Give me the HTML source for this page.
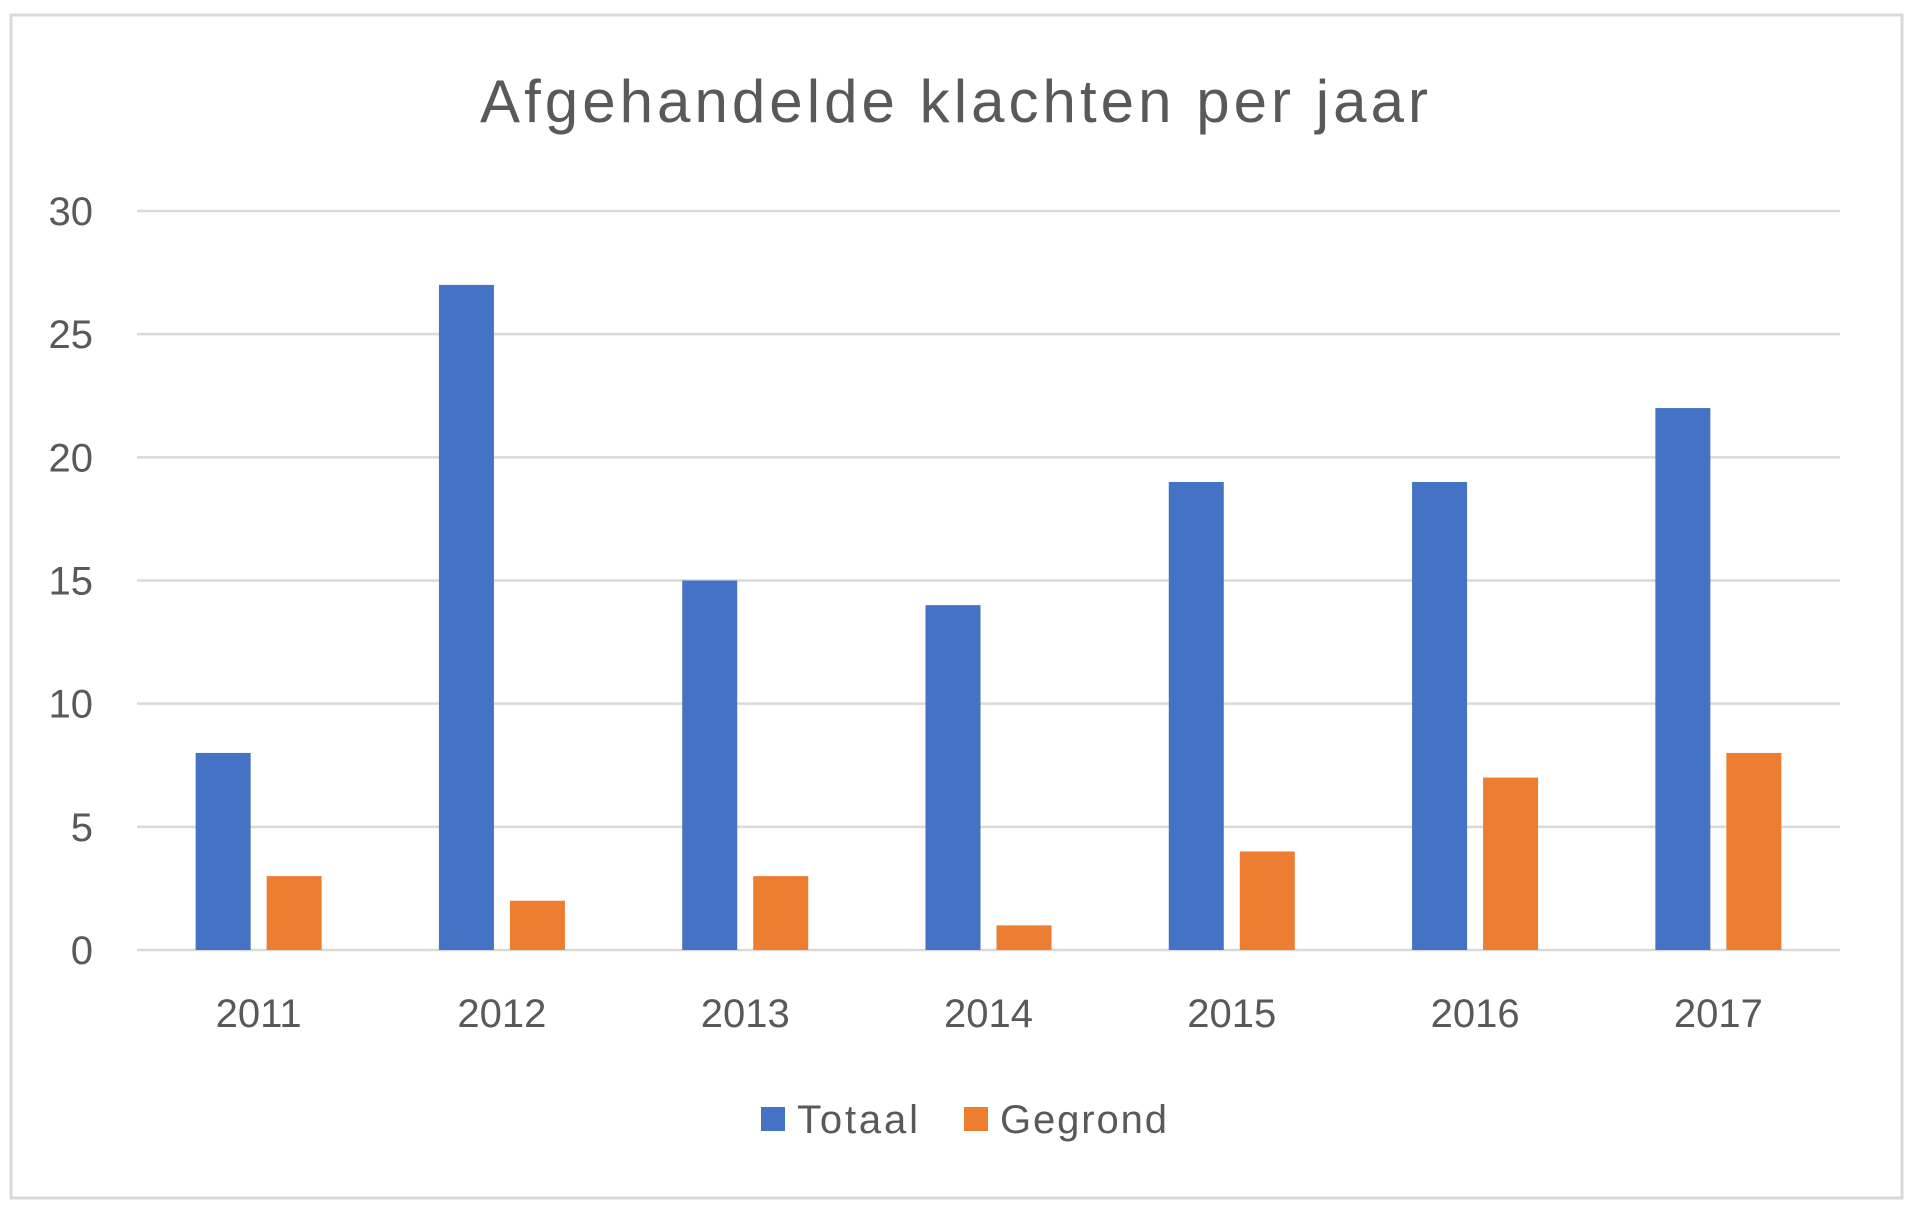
<!DOCTYPE html>
<html><head><meta charset="utf-8"><style>
html,body{margin:0;padding:0;background:#fff}
svg{display:block}
text{font-family:"Liberation Sans",sans-serif;fill:#595959}
</style></head><body>
<svg id="chart" width="1920" height="1214">
<rect x="11" y="15" width="1891" height="1183" fill="#fff" stroke="#d9d9d9" stroke-width="3"/>
<text x="954" y="122" text-anchor="middle" font-size="60" textLength="948">Afgehandelde klachten per jaar</text>
<g id="grid"></g><g id="bars"></g><g id="labels"></g>
<g>
<rect x="761" y="1107" width="24" height="24" fill="#4472c4"/>
<text x="797" y="1133" font-size="40" textLength="121">Totaal</text>
<rect x="964" y="1107" width="24" height="24" fill="#ed7d31"/>
<text x="1000" y="1133" font-size="40" textLength="167">Gegrond</text>
</g>
</svg>
<script>
const categories=["2011","2012","2013","2014","2015","2016","2017"];
const totaal=[8,27,15,14,19,19,22];
const gegrond=[3,2,3,1,4,7,8];
const yTicks=[0,5,10,15,20,25,30];
const NS="http://www.w3.org/2000/svg";
const L=137,R=1840,T=211,B=950,YMAX=30;
const y=v=>B-(B-T)*v/YMAX;
const bw=(R-L)/categories.length;
const x=i=>L+bw*i;
function mk(tag,attrs,parent){const e=document.createElementNS(NS,tag);for(const k in attrs)e.setAttribute(k,attrs[k]);parent.appendChild(e);return e;}
const grid=document.getElementById('grid'),bars=document.getElementById('bars'),labels=document.getElementById('labels');
yTicks.forEach(t=>{
 const l=mk('line',{x1:L,x2:R,y1:y(t),y2:y(t),stroke:'#d9d9d9','stroke-width':2.5},grid);
 
 
 const tx=mk('text',{x:93,y:y(t)+14,'text-anchor':'end','font-size':40},labels);
 tx.textContent=t;
 
 
});
const barW=55,gap=16;
categories.forEach((c,i)=>{
 const cx=x(i)+bw/2;
 const x0=cx-(2*barW+gap)/2;
 const b1=mk('rect',{x:x0,y:y(totaal[i]),width:barW,height:B-y(totaal[i]),fill:'#4472c4'},bars);
 
 
 const b2=mk('rect',{x:x0+barW+gap,y:y(gegrond[i]),width:barW,height:B-y(gegrond[i]),fill:'#ed7d31'},bars);
 
 
 const tx=mk('text',{x:cx,y:1027,'text-anchor':'middle','font-size':40},labels);
 tx.textContent=c;
 
 
});
</script>
</body></html>
